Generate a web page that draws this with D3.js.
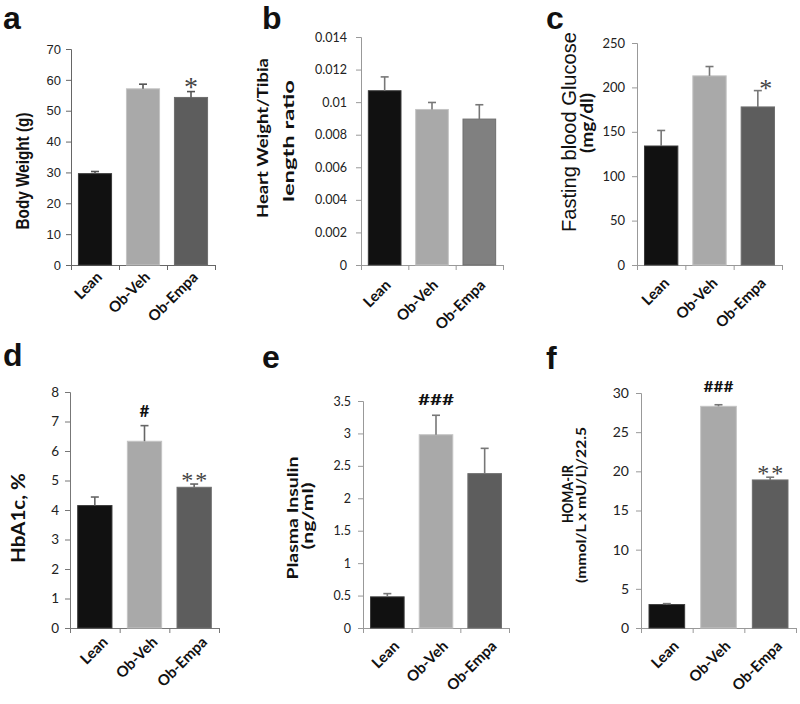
<!DOCTYPE html>
<html><head><meta charset="utf-8">
<script src="https://cdn.jsdelivr.net/npm/d3@7"></script>
<style>
body{margin:0;background:#fff;}
svg{display:block;}
</style></head>
<body>
<svg id="chart" width="800" height="704"></svg>
<script>
// ---------- data ----------
const groups = ["Lean", "Ob-Veh", "Ob-Empa"];

const bodyWeightMean = [29.6, 57.1, 54.3];
const bodyWeightErr  = [0.7, 1.5, 1.9];
const bodyWeightTicks = [0, 10, 20, 30, 40, 50, 60, 70];
const bodyWeightMarks = ["", "", "*"];

const heartTibiaMean = [0.0107, 0.00955, 0.00896];
const heartTibiaErr  = [0.00085, 0.00043, 0.00088];
const heartTibiaTicks = [0, 0.002, 0.004, 0.006, 0.008, 0.01, 0.012, 0.014];
const heartTibiaMarks = ["", "", ""];

const glucoseMean = [134, 213, 178];
const glucoseErr  = [17.5, 10.5, 18.4];
const glucoseTicks = [0, 50, 100, 150, 200, 250];
const glucoseMarks = ["", "", "*"];

const hba1cMean = [4.15, 6.33, 4.77];
const hba1cErr  = [0.29, 0.53, 0.11];
const hba1cTicks = [0, 1, 2, 3, 4, 5, 6, 7, 8];
const hba1cMarks = ["", "#", "**"];

const insulinMean = [0.48, 2.98, 2.38];
const insulinErr  = [0.05, 0.30, 0.39];
const insulinTicks = [0, 0.5, 1, 1.5, 2, 2.5, 3, 3.5];
const insulinMarks = ["", "###", ""];

const homaMean = [2.99, 28.3, 18.9];
const homaErr  = [0.12, 0.2, 0.35];
const homaTicks = [0, 5, 10, 15, 20, 25, 30];
const homaMarks = ["", "###", "**"];

const panelLetters = ["a", "b", "c", "d", "e", "f"];

// ---------- layout / style ----------
const ARIAL = "Liberation Sans, Arial, sans-serif";
const CAL = "Lato, Carlito, Calibri, sans-serif";
const STAR = "Liberation Serif, Times New Roman, serif";
const colorsMain = ["#111111", "#a9a9a9", "#5d5d5d"];
const colorsB = ["#111111", "#a9a9a9", "#808080"];
const strokesMain = ["#3a3a3a", "#c4c4c4", "#6e6e6e"];

const svg = d3.select("#chart");

const panels = [
  {letter: panelLetters[0], lx: 3, ly: 29, mean: bodyWeightMean, err: bodyWeightErr, ticks: bodyWeightTicks, marks: bodyWeightMarks,
   x0: 71, x1: 215, yb: 265, yt: 49, colors: colorsMain, tickFont: ARIAL, tickSize: 13, tickPad: 5, axisColor: "#666", errColor: "#555",
   xlab: {dx: 8, dy: 13},
   titles: [{text: "Body Weight (g)", x: 29, y: 171, font: ARIAL, size: 18, weight: "bold", len: 117}],
   starSize: 28, starOff: -4, starDx: 0},
  {letter: panelLetters[1], lx: 262, ly: 29, mean: heartTibiaMean, err: heartTibiaErr, ticks: heartTibiaTicks, marks: heartTibiaMarks,
   x0: 361, x1: 503, yb: 265, yt: 37, colors: colorsB, tickFont: CAL, tickSize: 12.5, tickPad: 9, axisColor: "#999", errColor: "#777",
   xlab: {dx: 7, dy: 21},
   titles: [{text: "Heart Weight/Tibia", x: 268, y: 138, font: CAL, size: 16, weight: "bold", len: 160},
            {text: "length ratio", x: 294, y: 141, font: CAL, size: 15, weight: "bold", len: 122}]},
  {letter: panelLetters[2], lx: 546, ly: 29, mean: glucoseMean, err: glucoseErr, ticks: glucoseTicks, marks: glucoseMarks,
   x0: 637, x1: 782, yb: 265, yt: 43, colors: colorsMain, tickFont: CAL, tickSize: 13, tickPad: 7, axisColor: "#999", errColor: "#777",
   xlab: {dx: 9, dy: 19},
   titles: [{text: "Fasting blood Glucose", x: 576, y: 132, font: ARIAL, size: 21, weight: "normal", len: 200},
            {text: "(mg/dl)", x: 593, y: 123, font: CAL, size: 17, weight: "bold", len: 60}],
   starSize: 26, starOff: -6, starDx: 8},
  {letter: panelLetters[3], lx: 3, ly: 366, mean: hba1cMean, err: hba1cErr, ticks: hba1cTicks, marks: hba1cMarks,
   x0: 70, x1: 219, yb: 628, yt: 392, colors: colorsMain, tickFont: CAL, tickSize: 13.5, tickPad: 6, axisColor: "#777", errColor: "#666",
   xlab: {dx: 14, dy: 15},
   titles: [{text: "HbA1c, %", x: 25, y: 518, font: CAL, size: 19, weight: "bold", len: 90}],
   markSize: 17, markOff: 9, starSize: 24, starOff: -4, starDx: 1},
  {letter: panelLetters[4], lx: 262, ly: 368, mean: insulinMean, err: insulinErr, ticks: insulinTicks, marks: insulinMarks,
   x0: 363, x1: 509, yb: 628, yt: 401, colors: colorsMain, tickFont: CAL, tickSize: 12.5, tickPad: 7, axisColor: "#999", errColor: "#777",
   xlab: {dx: 13, dy: 19},
   titles: [{text: "Plasma Insulin", x: 298, y: 518, font: CAL, size: 15, weight: "bold", len: 123},
            {text: "(ng/ml)", x: 313, y: 516, font: CAL, size: 15, weight: "bold", len: 67}],
   markSize: 16, markOff: 10, markLen: 36},
  {letter: panelLetters[5], lx: 546, ly: 369, mean: homaMean, err: homaErr, ticks: homaTicks, marks: homaMarks,
   x0: 641, x1: 796, yb: 628, yt: 393, colors: colorsMain, tickFont: CAL, tickSize: 14, tickPad: 7, axisColor: "#999", errColor: "#777",
   xlab: {dx: 13, dy: 19},
   titles: [{text: "HOMA-IR", x: 573, y: 494, font: CAL, size: 15, weight: "bold", len: 58},
            {text: "(mmol/L x mU/L)/22.5", x: 586, y: 505, font: CAL, size: 14, weight: "bold", len: 156}],
   markSize: 16, markOff: 13, markLen: 30, starSize: 24, starOff: -4, starDx: 1}
];

panels.forEach(p => {
  const g = svg.append("g");
  const top = p.ticks[p.ticks.length - 1];
  const y = d3.scaleLinear().domain([0, top]).range([p.yb, p.yt]);
  const x = d3.scaleBand().domain(groups).range([p.x0, p.x1]).paddingInner(0.31).paddingOuter(0.155);

  // panel letter
  svg.append("text").attr("x", p.lx).attr("y", p.ly)
    .attr("font-family", ARIAL).attr("font-weight", "bold").attr("font-size", 32)
    .attr("fill", "#111").text(p.letter);

  // y axis
  const yAxis = d3.axisLeft(y).tickValues(p.ticks).tickSizeOuter(0).tickSize(5).tickPadding(p.tickPad)
    .tickFormat(d => String(+d.toPrecision(6)));
  const ya = g.append("g").attr("transform", `translate(${p.x0},0)`).call(yAxis);
  ya.select(".domain").attr("stroke", p.axisColor);
  ya.selectAll(".tick line").attr("stroke", p.axisColor);
  ya.selectAll(".tick text").attr("font-family", p.tickFont).attr("font-size", p.tickSize).attr("fill", "#222");

  // x axis (line with boundary ticks)
  const xb = d3.scaleLinear().domain([0, groups.length]).range([p.x0, p.x1]);
  const xa = g.append("g").attr("transform", `translate(0,${p.yb})`)
    .call(d3.axisBottom(xb).tickValues(d3.range(groups.length + 1)).tickSize(5).tickSizeOuter(0).tickFormat(""));
  xa.select(".domain").attr("stroke", p.axisColor);
  xa.selectAll(".tick line").attr("stroke", p.axisColor);

  // bars
  g.selectAll("rect.bar").data(p.mean).join("rect")
    .attr("x", (d, i) => x(groups[i]))
    .attr("y", d => y(d))
    .attr("width", x.bandwidth())
    .attr("height", d => p.yb - y(d))
    .attr("fill", (d, i) => p.colors[i])
    .attr("stroke", (d, i) => strokesMain[i]).attr("stroke-width", 1);

  // error bars (upper)
  const cap = 4;
  p.mean.forEach((m, i) => {
    const cx = x(groups[i]) + x.bandwidth() / 2;
    g.append("line").attr("x1", cx).attr("x2", cx).attr("y1", y(m)).attr("y2", y(m + p.err[i]))
      .attr("stroke", p.errColor).attr("stroke-width", 1.6);
    g.append("line").attr("x1", cx - cap).attr("x2", cx + cap).attr("y1", y(m + p.err[i])).attr("y2", y(m + p.err[i]))
      .attr("stroke", p.errColor).attr("stroke-width", 1.6);
  });

  // x labels rotated
  groups.forEach((grp, i) => {
    const cx = x(grp) + x.bandwidth() / 2 + p.xlab.dx;
    g.append("text").attr("transform", `translate(${cx},${p.yb + p.xlab.dy}) rotate(-45)`)
      .attr("text-anchor", "end").attr("font-family", CAL).attr("font-weight", "bold")
      .attr("font-size", 15).attr("fill", "#111").text(grp);
  });

  // axis titles
  p.titles.forEach(t => {
    g.append("text").attr("transform", `translate(${t.x},${t.y}) rotate(-90)`)
      .attr("text-anchor", "middle").attr("font-family", t.font).attr("font-weight", t.weight)
      .attr("font-size", t.size).attr("fill", "#111")
      .attr("textLength", t.len).attr("lengthAdjust", "spacingAndGlyphs").text(t.text);
  });

  // significance marks
  p.marks.forEach((mk, i) => {
    if (!mk) return;
    const isStar = mk.indexOf("*") >= 0;
    const cx = x(groups[i]) + x.bandwidth() / 2 + (isStar ? (p.starDx || 0) : 0);
    const yTop = y(p.mean[i] + p.err[i]);
    const t = g.append("text").attr("x", cx).attr("text-anchor", "middle").text(mk);
    if (isStar) {
      t.attr("y", yTop - p.starOff).attr("font-family", STAR).attr("font-size", p.starSize)
        .attr("fill", "#444").attr("letter-spacing", mk.length > 1 ? 2 : 0);
    } else {
      t.attr("y", yTop - p.markOff).attr("font-family", CAL).attr("font-size", p.markSize)
        .attr("font-weight", "bold").attr("fill", "#111");
      if (p.markLen) t.attr("textLength", p.markLen).attr("lengthAdjust", "spacingAndGlyphs");
    }
  });
});
</script>
</body></html>
